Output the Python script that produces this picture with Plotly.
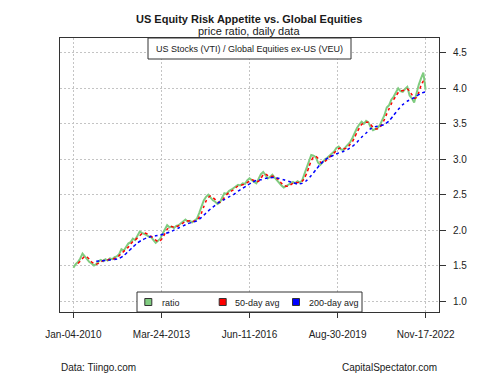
import pandas as pd
import plotly.graph_objects as go

# ---------------- data ----------------
start_date = "2010-01-04"
end_date = "2022-11-17"

ratio_vals = [
    1.47, 1.52, 1.55, 1.60, 1.67, 1.63, 1.58, 1.55, 1.53, 1.50,
    1.52, 1.56, 1.58, 1.56, 1.59, 1.57, 1.60, 1.59, 1.62, 1.63,
    1.66, 1.73, 1.71, 1.76, 1.81, 1.83, 1.88, 1.86, 1.92, 1.98,
    1.96, 1.95, 1.93, 1.91, 1.90, 1.86, 1.82, 1.85, 1.88, 1.95,
    2.01, 2.07, 2.04, 2.05, 2.03, 2.06, 2.07, 2.10, 2.13, 2.15,
    2.12, 2.13, 2.11, 2.14, 2.16, 2.24, 2.33, 2.42, 2.47, 2.50,
    2.46, 2.42, 2.40, 2.37, 2.39, 2.46, 2.52, 2.51, 2.55, 2.57,
    2.59, 2.62, 2.64, 2.63, 2.66, 2.65, 2.70, 2.73, 2.70, 2.68,
    2.66, 2.72, 2.79, 2.82, 2.77, 2.73, 2.75, 2.78, 2.74, 2.70,
    2.66, 2.63, 2.60, 2.62, 2.64, 2.66, 2.68, 2.66, 2.69, 2.67,
    2.70, 2.79, 2.88, 2.97, 3.06, 3.05, 3.03, 2.95, 2.92, 2.96,
    3.00, 3.02, 3.05, 3.08, 3.11, 3.16, 3.18, 3.14, 3.13, 3.17,
    3.20, 3.24, 3.30, 3.38, 3.44, 3.49, 3.53, 3.50, 3.54, 3.52,
    3.45, 3.41, 3.43, 3.44, 3.48, 3.55, 3.62, 3.73, 3.76, 3.84,
    3.88, 3.94, 4.00, 3.96, 3.95, 3.99, 4.02, 3.90, 3.86, 3.80,
    3.95, 4.05, 4.14, 4.22, 3.98,
]

# 50-day average, starting at the 3rd monthly point
avg50_vals = [
    1.53, 1.56, 1.60, 1.63, 1.62, 1.59, 1.55, 1.53, 1.52, 1.53,
    1.55, 1.57, 1.58, 1.58, 1.59, 1.59, 1.60, 1.61, 1.64, 1.67,
    1.70, 1.73, 1.76, 1.80, 1.84, 1.86, 1.89, 1.92, 1.95, 1.96,
    1.95, 1.93, 1.91, 1.89, 1.86, 1.84, 1.85, 1.89, 1.95, 2.01,
    2.04, 2.05, 2.04, 2.05, 2.06, 2.08, 2.10, 2.13, 2.13, 2.13,
    2.12, 2.13, 2.14, 2.18, 2.24, 2.33, 2.41, 2.46, 2.48, 2.46,
    2.43, 2.40, 2.39, 2.41, 2.46, 2.50, 2.53, 2.55, 2.57, 2.60,
    2.62, 2.63, 2.64, 2.65, 2.67, 2.69, 2.71, 2.70, 2.68, 2.69,
    2.73, 2.78, 2.79, 2.77, 2.75, 2.76, 2.76, 2.73, 2.70, 2.66,
    2.63, 2.62, 2.62, 2.64, 2.66, 2.67, 2.67, 2.68, 2.69, 2.73,
    2.80, 2.89, 2.98, 3.03, 3.04, 3.01, 2.96, 2.95, 2.97, 3.00,
    3.03, 3.06, 3.09, 3.12, 3.15, 3.16, 3.15, 3.15, 3.17, 3.21,
    3.25, 3.31, 3.38, 3.44, 3.49, 3.51, 3.52, 3.52, 3.49, 3.45,
    3.43, 3.43, 3.45, 3.50, 3.56, 3.64, 3.71, 3.78, 3.84, 3.89,
    3.94, 3.96, 3.97, 3.97, 3.99, 3.96, 3.91, 3.86, 3.87, 3.94,
    4.04, 4.10, 4.10,
]

# 200-day average, every 2nd monthly point starting at the 11th
avg200_vals = [
    1.56, 1.565, 1.57, 1.58, 1.585, 1.60, 1.64, 1.70, 1.76, 1.82,
    1.86, 1.89, 1.91, 1.92, 1.93, 1.95, 1.97, 2.00, 2.03, 2.06,
    2.09, 2.11, 2.13, 2.18, 2.24, 2.30, 2.35, 2.40, 2.43, 2.47,
    2.50, 2.55, 2.59, 2.63, 2.67, 2.70, 2.71, 2.73, 2.74, 2.74,
    2.73, 2.71, 2.69, 2.67, 2.65, 2.66, 2.70, 2.77, 2.85, 2.93,
    2.99, 3.03, 3.06, 3.09, 3.11, 3.14, 3.18, 3.24, 3.31, 3.37,
    3.43, 3.46, 3.47, 3.49, 3.54, 3.62, 3.70, 3.77, 3.82, 3.85,
    3.89, 3.93, 3.95,
]

x_tick_labels = ["Jan-04-2010", "Mar-24-2013", "Jun-11-2016", "Aug-30-2019", "Nov-17-2022"]
x_tick_dates = ["2010-01-04", "2013-03-24", "2016-06-11", "2019-08-30", "2022-11-17"]
y_ticks = [1.0, 1.5, 2.0, 2.5, 3.0, 3.5, 4.0, 4.5]

title_text = "US Equity Risk Appetite vs. Global Equities"
subtitle_text = "price ratio, daily data"
box_text = "US Stocks (VTI) / Global Equities ex-US (VEU)"
legend_labels = ["ratio", "50-day avg", "200-day avg"]
source_text = "Data: Tiingo.com"
brand_text = "CapitalSpectator.com"

# ---------------- build ----------------
dates = pd.date_range(start_date, end_date, periods=len(ratio_vals))
dates50 = dates[2:2 + len(avg50_vals)]
dates200 = dates[10::2][:len(avg200_vals)]
tick_dates = pd.to_datetime(x_tick_dates)

W, H = 500, 375
PL, PR, PT, PB = 60, 439, 38, 312


def px(x):
    return (x - PL) / (PR - PL)


def py(y):
    return (PB - y) / (PB - PT)


GREEN = "#80CC80"
RED = "#FF0000"
BLUE = "#0000FF"
FONT = "Liberation Sans, Arial, sans-serif"
GRID = "#C4C4C4"

fig = go.Figure()
fig.add_trace(go.Scatter(x=dates, y=ratio_vals, mode="lines",
                         line=dict(color=GREEN, width=2), showlegend=False))
fig.add_trace(go.Scatter(x=dates50, y=avg50_vals, mode="lines",
                         line=dict(color=RED, width=1.5, dash="3px,3px", shape="spline", smoothing=0.6),
                         showlegend=False))
fig.add_trace(go.Scatter(x=dates200, y=avg200_vals, mode="lines",
                         line=dict(color=BLUE, width=1.5, dash="3px,3px", shape="spline", smoothing=0.6),
                         showlegend=False))

span = tick_dates[-1] - tick_dates[0]
ext = span * 0.038
fig.update_xaxes(range=[tick_dates[0] - ext, tick_dates[-1] + ext],
                 tickvals=tick_dates, ticktext=x_tick_labels,
                 ticks="outside", ticklen=5, tickcolor="#333333",
                 showline=True, linecolor="#333333", linewidth=1, mirror=True,
                 showgrid=True, gridcolor=GRID, griddash="2px,2px", gridwidth=1,
                 zeroline=False, ticklabelstandoff=8,
                 tickfont=dict(family=FONT, size=10, color="#222222"))
fig.update_yaxes(range=[0.845, 4.71], tickvals=y_ticks,
                 ticktext=[f"{v:.1f}" for v in y_ticks], side="right",
                 ticks="outside", ticklen=6, tickcolor="#333333",
                 showline=True, linecolor="#333333", linewidth=1, mirror=True,
                 showgrid=True, gridcolor=GRID, griddash="2px,2px", gridwidth=1,
                 zeroline=False, ticklabelstandoff=5,
                 tickfont=dict(family=FONT, size=10, color="#222222"))

shapes = []
annotations = []

# titles
annotations.append(dict(x=px(249), y=py(19), xref="paper", yref="paper", text="<b>" + title_text + "</b>",
                        showarrow=False, font=dict(family=FONT, size=11, color="#1a1a1a"),
                        xanchor="center", yanchor="middle"))
annotations.append(dict(x=px(249), y=py(31), xref="paper", yref="paper", text=subtitle_text,
                        showarrow=False, font=dict(family=FONT, size=11, color="#1a1a1a"),
                        xanchor="center", yanchor="middle"))

# top box
shapes.append(dict(type="rect", xref="paper", yref="paper", x0=px(148), x1=px(351), y0=py(59), y1=py(38),
                   line=dict(color="#333333", width=1), fillcolor="white", layer="above"))
annotations.append(dict(x=px(249.5), y=py(48.5), xref="paper", yref="paper", text=box_text,
                        showarrow=False, font=dict(family=FONT, size=9, color="#1a1a1a"),
                        xanchor="center", yanchor="middle"))

# bottom legend
shapes.append(dict(type="rect", xref="paper", yref="paper", x0=px(137), x1=px(362), y0=py(312), y1=py(292),
                   line=dict(color="#333333", width=1), fillcolor="white", layer="above"))
leg_sq_x = [148.3, 222.7, 296]
leg_txt_x = [160, 233.3, 306.7]
leg_colors = [GREEN, RED, BLUE]
for sx, tx, col, lab in zip(leg_sq_x, leg_txt_x, leg_colors, legend_labels):
    shapes.append(dict(type="rect", xref="paper", yref="paper", x0=px(sx - 3.5), x1=px(sx + 3.5),
                       y0=py(302 + 3.5), y1=py(302 - 3.5),
                       line=dict(color="#333333", width=1), fillcolor=col, layer="above"))
    annotations.append(dict(x=px(tx), y=py(302.5), xref="paper", yref="paper", text=lab,
                            showarrow=False, font=dict(family=FONT, size=9, color="#1a1a1a"),
                            xanchor="left", yanchor="middle"))

# footers
annotations.append(dict(x=px(59), y=py(367), xref="paper", yref="paper", text=source_text,
                        showarrow=False, font=dict(family=FONT, size=10, color="#1a1a1a"),
                        xanchor="left", yanchor="middle"))
annotations.append(dict(x=px(439), y=py(367), xref="paper", yref="paper", text=brand_text,
                        showarrow=False, font=dict(family=FONT, size=10, color="#1a1a1a"),
                        xanchor="right", yanchor="middle"))

fig.update_layout(width=W, height=H, autosize=False,
                  margin=dict(l=PL, r=W - PR, t=PT, b=H - PB, pad=0),
                  paper_bgcolor="white", plot_bgcolor="white",
                  shapes=shapes, annotations=annotations, showlegend=False,
                  font=dict(family=FONT))

fig.write_html("out.html", config={"displayModeBar": False},
               post_script="document.body.style.margin='0';document.body.style.padding='0';")
